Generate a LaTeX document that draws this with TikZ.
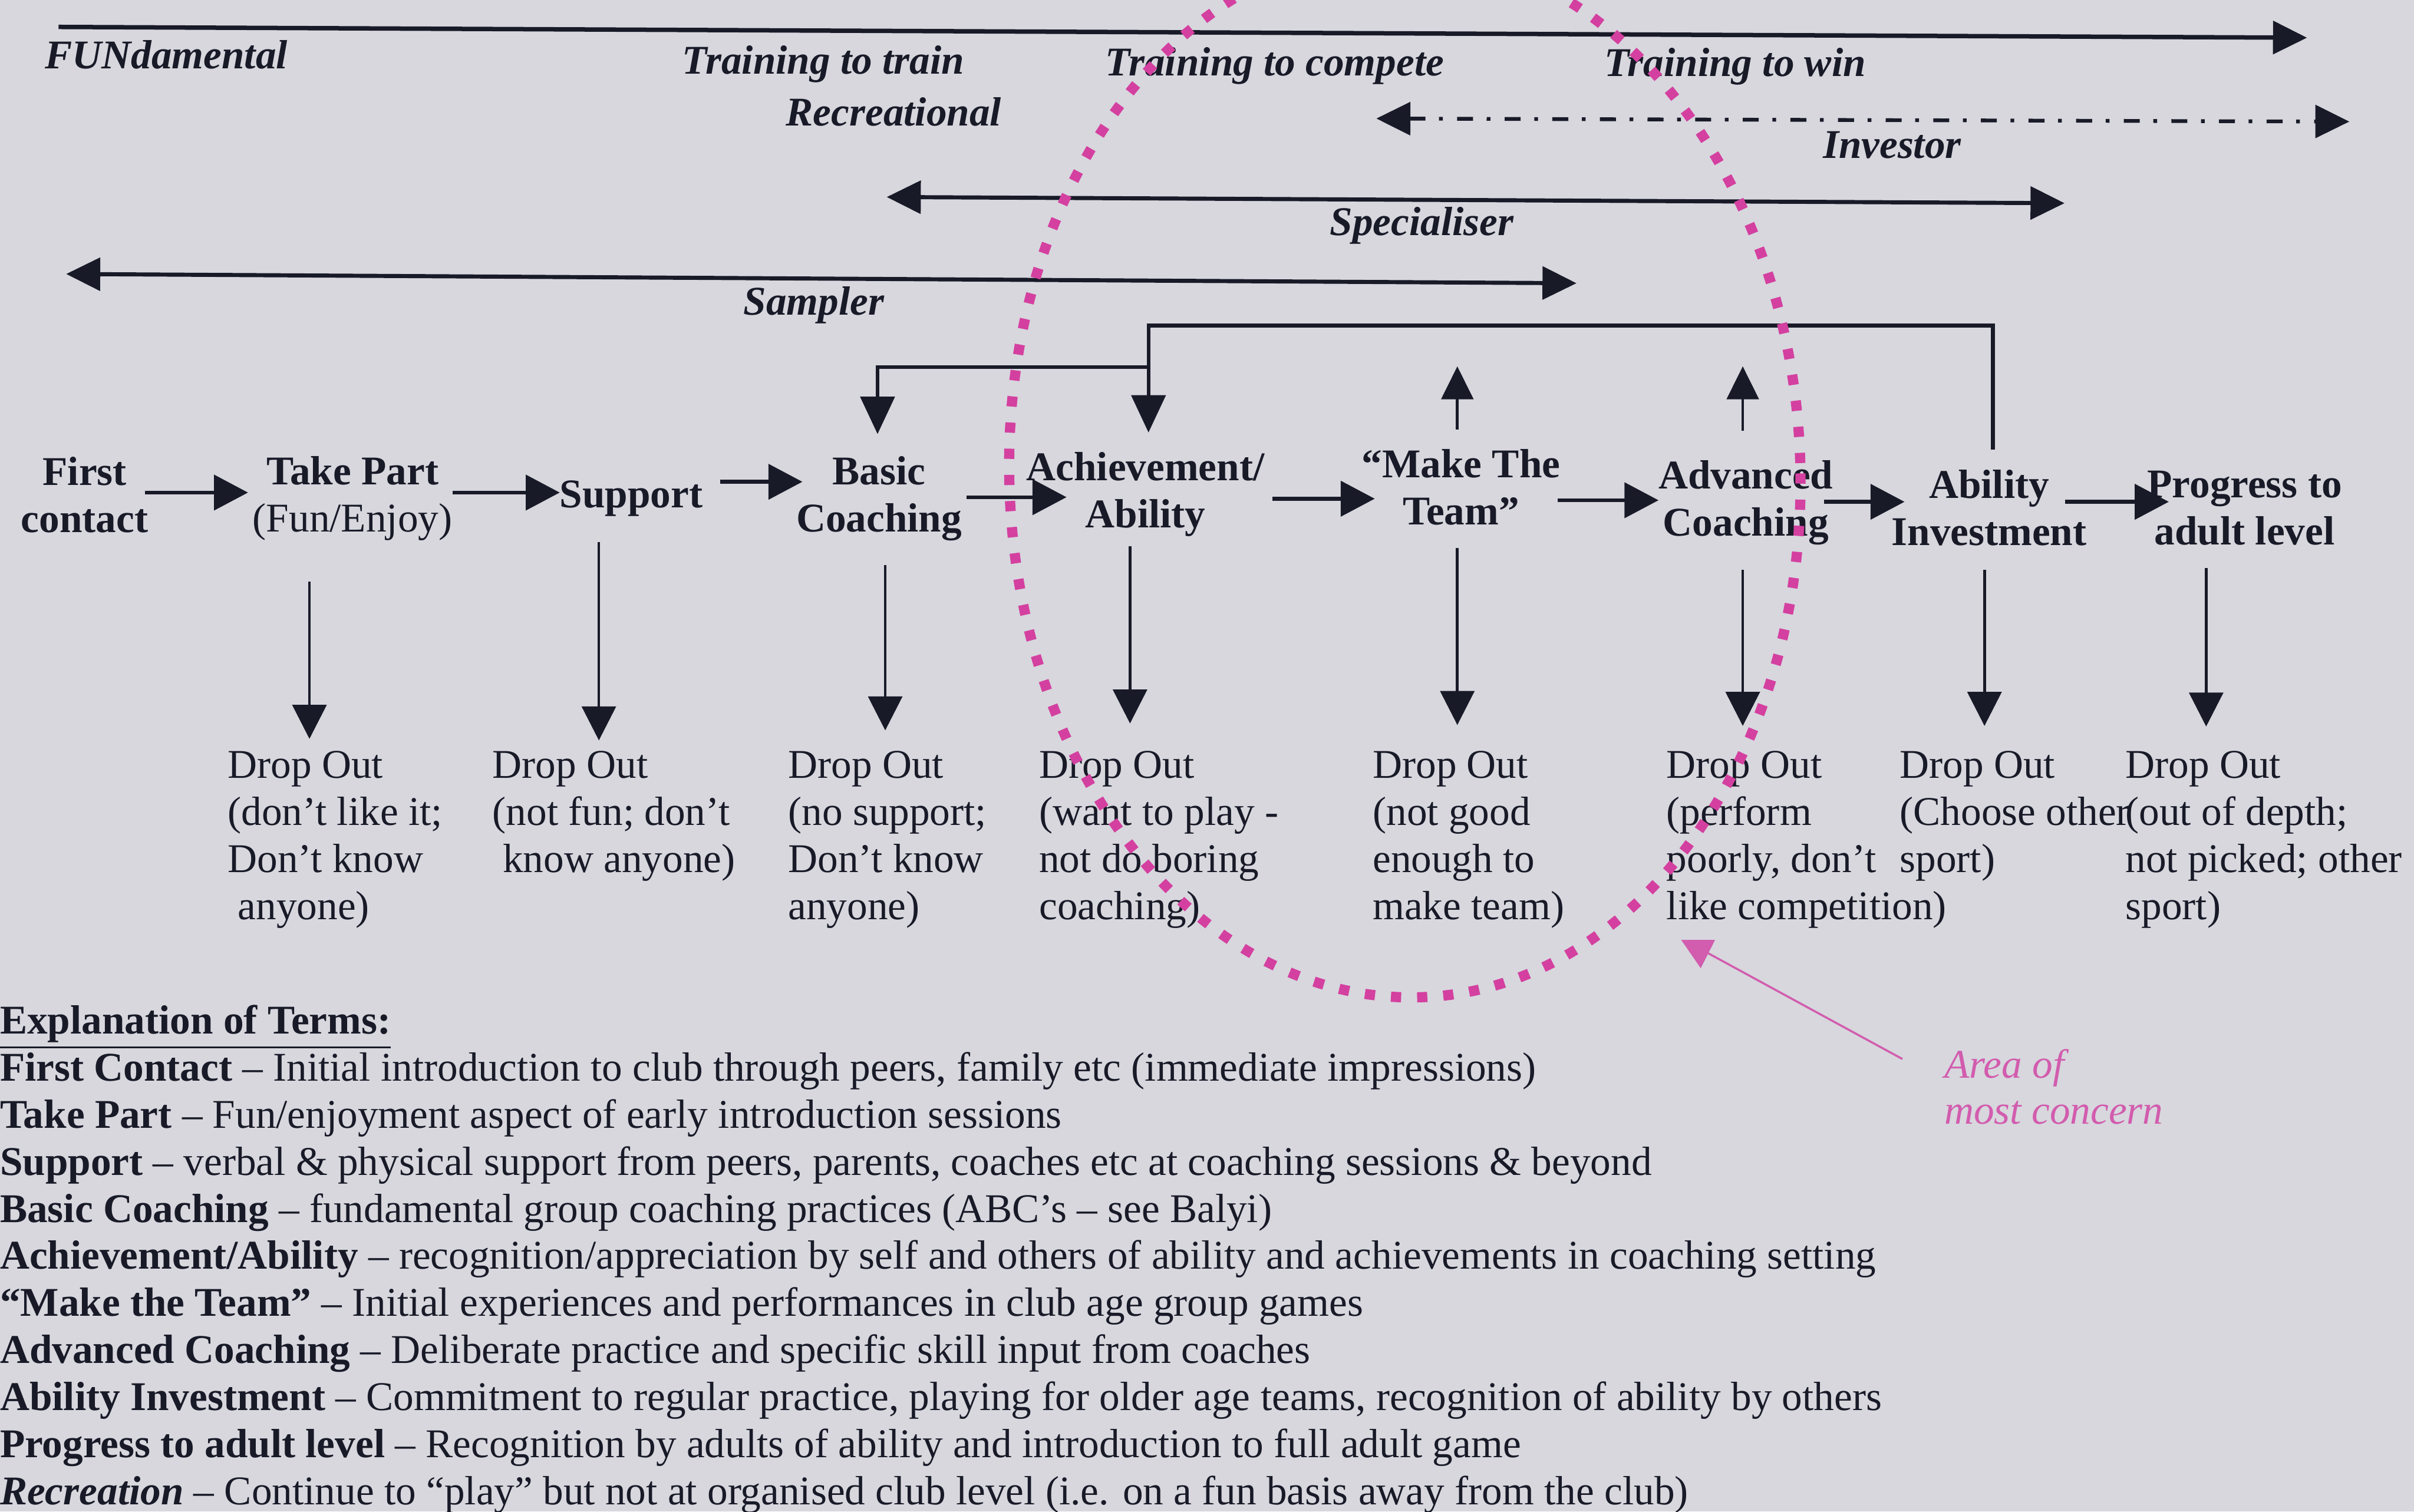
\documentclass[tikz,border=0pt]{standalone}
\usepackage{fontspec}
\setmainfont{Liberation Serif}
\usetikzlibrary{arrows.meta}
\definecolor{paper}{RGB}{215,215,221}
\definecolor{ink}{RGB}{24,26,40}
\definecolor{mag}{RGB}{212,64,160}
\definecolor{pinkink}{RGB}{210,92,174}
\begin{document}
\begin{tikzpicture}[x=0.4526pt, y=-0.4526pt,
  every node/.style={inner sep=0pt, outer sep=0pt, text=ink, font=\fontsize{12}{13.85}\selectfont},
  phase/.style={font=\fontsize{12}{13.85}\selectfont\bfseries\itshape, anchor=base},
  stage/.style={align=center, font=\fontsize{12}{13.85}\selectfont\bfseries},
  dropnote/.style={align=left, anchor=north west},
  fwd/.style={draw=ink, line width=1.3pt, -{Triangle[length=10pt,width=9.6pt]}},
  span/.style={draw=ink, line width=1.2pt, {Triangle[length=10pt,width=9.6pt]}-{Triangle[length=10pt,width=9.6pt]}},
  invline/.style={draw=ink, line width=1.1pt, dash pattern=on 4.7pt off 4pt on 1.1pt off 4.2pt,
     {Triangle[length=10pt,width=9.6pt]}-{Triangle[length=10pt,width=9.6pt]}},
  flow/.style={draw=ink, line width=1.1pt, -{Triangle[length=10pt,width=10.3pt]}},
  dropar/.style={draw=ink, line width=0.8pt, -{Triangle[length=10pt,width=10pt]}},
  uparr/.style={draw=ink, line width=0.8pt, -{Triangle[length=9.7pt,width=9.4pt]}},
  brkarr/.style={draw=ink, line width=1.1pt, -{Triangle[length=11pt,width=10pt]}},
  concern/.style={draw=mag, line width=3pt, dash pattern=on 3pt off 4.7pt},
]
\path[use as bounding box, fill=paper] (0,0) rectangle (1568,982);

% ---- phase arrows ----
\coordinate (funL) at (38,17.5);  \coordinate (funR) at (1498.5,24.5);
\coordinate (invL) at (894,77);   \coordinate (invR) at (1526,79);
\coordinate (spL)  at (576,128);  \coordinate (spR)  at (1341,132);
\coordinate (saL)  at (43,178);   \coordinate (saR)  at (1024,184);
\draw[fwd] (funL) -- (funR);
\draw[invline] (invL) -- (invR);
\draw[span] (spL) -- (spR);
\draw[span] (saL) -- (saR);

\node[phase] (lfun)  at (108,44.7)   {FUNdamental};
\node[phase] (ltt)   at (534.7,48)   {Training to train};
\node[phase] (ltc)   at (828,49)     {Training to compete};
\node[phase] (ltw)   at (1127,49.6)  {Training to win};
\node[phase] (lrec)  at (580.5,81.7) {Recreational};
\node[phase] (linv)  at (1229,102.8) {Investor};
\node[phase] (lspec) at (923.5,153)  {Specialiser};
\node[phase] (lsamp) at (528.7,204.7){Sampler};

% ---- stages ----
\node[stage] (fc)  at (55,321.5)   {First\\contact};
\node[stage] (tp)  at (229,324)    {Take Part\\{\mdseries (Fun/Enjoy)}};
\node[stage] (sup) at (410,324)    {Support};
\node[stage] (bc)  at (571,324)    {Basic\\Coaching};
\node[stage] (aa)  at (744,321)    {Achievement/\\Ability};
\node[stage] (mt)  at (949,316.5)  {“Make The\\Team”};
\node[stage] (ac)  at (1134,326.5) {Advanced\\Coaching};
\node[stage] (ai)  at (1292,330)   {Ability\\Investment};
\node[stage] (pa)  at (1458,330)   {Progress to\\adult level};

\draw[flow, shorten <=-0.9pt, shorten >=1.4pt] (fc.east |- 0,320) -- (tp.west |- 0,320);
\draw[flow] (tp.east |- 0,320) -- (sup.west |- 0,320);
\draw[flow, shorten <=5.2pt, shorten >=-1.8pt] (sup.east |- 0,313) -- (bc.west |- 0,313);
\draw[flow, shorten <=1.4pt, shorten >=-11.8pt] (bc.east |- 0,323) -- (aa.west |- 0,323);
\draw[flow, shorten <=2.3pt, shorten >=-3.8pt] (aa.east |- 0,324) -- (mt.west |- 0,324);
\draw[flow, shorten <=-0.7pt] (mt.east |- 0,325) -- (ac.west |- 0,325);
\draw[flow, shorten <=-2.6pt, shorten >=-3.8pt] (ac.east |- 0,326) -- (ai.west |- 0,326);
\draw[flow, shorten <=-6.3pt, shorten >=-6.3pt] (ai.east |- 0,326) -- (pa.west |- 0,326);

% ---- feedback brackets ----
\coordinate (bigR)  at (1294.5,292);
\coordinate (bigTR) at (1294.5,211.5);
\coordinate (bigTL) at (746,211.5);
\coordinate (aaIn)  at (746,281);
\draw[brkarr] (bigR) -- (bigTR) -- (bigTL) -- (aaIn);
\coordinate (sbR)  at (746,238.6);
\coordinate (sbL)  at (570,238.6);
\coordinate (bcIn) at (570,282);
\draw[brkarr] (sbR) -- (sbL) -- (bcIn);

\coordinate (mtU0) at (946.6,279); \coordinate (mtU1) at (946.6,238);
\coordinate (acU0) at (1132,280);  \coordinate (acU1) at (1132,238);
\draw[uparr] (mtU0) -- (mtU1);
\draw[uparr] (acU0) -- (acU1);

% ---- drop outs ----
\node[dropnote] (d1) at (148,488)    {Drop Out\\(don’t like it;\\Don’t know\\\hspace*{0.25em}anyone)};
\node[dropnote] (d2) at (320,488)    {Drop Out\\(not fun; don’t\\\hspace*{0.25em}know anyone)};
\node[dropnote] (d3) at (512,488)    {Drop Out\\(no support;\\Don’t know\\anyone)};
\node[dropnote] (d4) at (675,488)    {Drop Out\\(want to play -\\not do boring\\coaching)};
\node[dropnote] (d5) at (891.7,488)  {Drop Out\\(not good\\enough to\\make team)};
\node[dropnote] (d6) at (1082.5,488) {Drop Out\\(perform\\poorly, don’t\\like competition)};
\node[dropnote] (d7) at (1234,488)   {Drop Out\\(Choose other\\sport)};
\node[dropnote] (d8) at (1380.6,488) {Drop Out\\(out of depth;\\not picked; other\\sport)};

\coordinate (s1) at (201,378);   \coordinate (e1) at (201,480);
\coordinate (s2) at (389,352);   \coordinate (e2) at (389,481);
\coordinate (s3) at (575,367);   \coordinate (e3) at (575,474.5);
\coordinate (s4) at (734,355);   \coordinate (e4) at (734,470);
\coordinate (s5) at (946.6,356); \coordinate (e5) at (946.6,471);
\coordinate (s6) at (1132,370);  \coordinate (e6) at (1132,471.6);
\coordinate (s7) at (1289,370);  \coordinate (e7) at (1289,471.6);
\coordinate (s8) at (1433,369);  \coordinate (e8) at (1433,472);
\foreach \i in {1,...,8} {\draw[dropar] (s\i) -- (e\i);}

% ---- legend ----
\node[anchor=north west, align=left, font=\fontsize{12}{13.84}\selectfont] (legend) at (0,653) {%
\underline{\textbf{Explanation of Terms:}}\\
\textbf{First Contact} – Initial introduction to club through peers, family etc (immediate impressions)\\
\textbf{Take Part} – Fun/enjoyment aspect of early introduction sessions\\
\textbf{Support} – verbal \& physical support from peers, parents, coaches etc at coaching sessions \& beyond\\
\textbf{Basic Coaching} – fundamental group coaching practices (ABC’s – see Balyi)\\
\textbf{Achievement/Ability} – recognition/appreciation by self and others of ability and achievements in coaching setting\\
\textbf{“Make the Team”} – Initial experiences and performances in club age group games\\
\textbf{Advanced Coaching} – Deliberate practice and specific skill input from coaches\\
\textbf{Ability Investment} – Commitment to regular practice, playing for older age teams, recognition of ability by others\\
\textbf{Progress to adult level} – Recognition by adults of ability and introduction to full adult game\\
\textbf{\textit{Recreation}} – Continue to “play” but not at organised club level (i.e. on a fun basis away from the club)};

% ---- area of concern ----
\node[anchor=north west, align=left, text=pinkink, font=\fontsize{12}{13.6}\selectfont\itshape] (areaLbl) at (1263,681.5) {Area of\\most concern};
\coordinate (ptrS) at (1235.7,688);
\coordinate (ptrE) at (1109,619);
\draw[draw=pinkink, line width=0.6pt] (ptrS) -- (ptrE);
\fill[pinkink] (1092,610.6) -- (1114,610.6) -- (1104.7,629) -- cycle;

\begin{scope}
\clip (0,0) rectangle (1568,982);
\draw[concern, rotate around={1.6:(912.5,308)}] (912.5,308) ellipse [x radius=116.3pt, y radius=153.9pt];
\end{scope}
\end{tikzpicture}
\end{document}
